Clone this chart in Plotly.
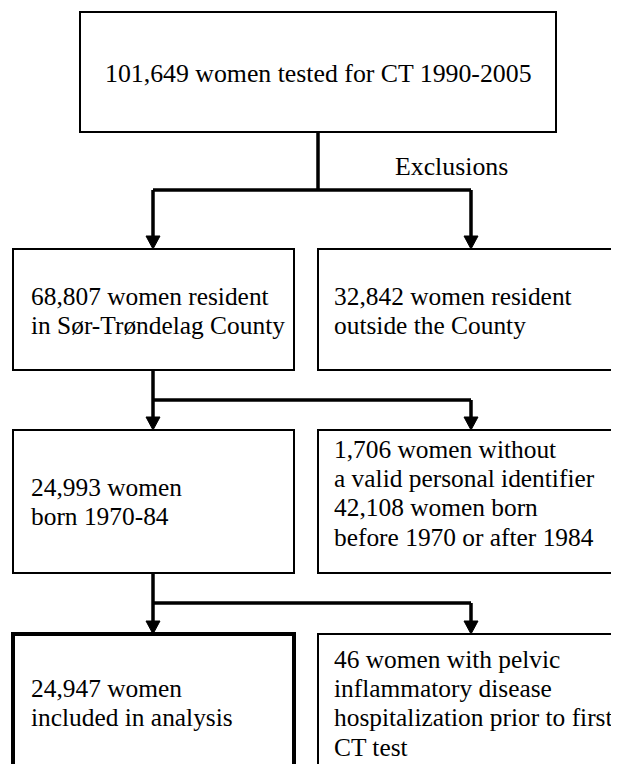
import plotly.graph_objects as go

# ---- content (text of the flowchart) ----
top_label = ["101,649 women tested for CT 1990-2005"]
exclusions_label = "Exclusions"
left_labels = [
    ["68,807 women resident", "in Sør-Trøndelag County"],
    ["24,993 women", "born 1970-84"],
    ["24,947 women", "included in analysis"],
]
right_labels = [
    ["32,842 women resident", "outside the County"],
    ["1,706 women without", "a valid personal identifier",
     "42,108 women born", "before 1970 or after 1984"],
    ["46 women with pelvic", "inflammatory disease",
     "hospitalization prior to first", "CT test"],
]

# ---- layout geometry (pixel-like axis units) ----
W, H = 619, 764
OFF = 8  # page body margin compensation
FONT = "'Times New Roman', 'Liberation Serif', 'DejaVu Serif', serif"
FS = 25.4
LINE = 29.2

top_box = (80, 12, 556, 132)
top_x = 318
split_y = [190, 400, 603]
row_top = [249, 430, 634]
row_bot = [370, 573, 800]
left_col = (13, 294)
right_col = (318, 660)
arrow_l, arrow_r = 153, 471
left_first_y = [296, 487, 688]
right_first_y = [296, 449, 659]
text_lx, text_rx = 29, 332

fig = go.Figure()
shapes = []
annotations = []
tfont = dict(family=FONT, size=FS, color="black")

def rect(x0, y0, x1, y1, w=2):
    shapes.append(dict(type="rect", xref="x", yref="y", x0=x0, y0=y0, x1=x1, y1=y1,
                       line=dict(color="black", width=w), fillcolor="white", layer="below"))

def seg(x0, y0, x1, y1, w=3.5):
    shapes.append(dict(type="line", xref="x", yref="y", x0=x0, y0=y0, x1=x1, y1=y1,
                       line=dict(color="black", width=w)))

def head(x, ytip, hw=7, hh=13):
    shapes.append(dict(type="path", xref="x", yref="y",
                       path=f"M {x-hw} {ytip-hh} L {x+hw} {ytip-hh} L {x} {ytip} Z",
                       fillcolor="black", line=dict(color="black", width=1)))

def label(x, y, t, anchor="left", size=FS):
    annotations.append(dict(x=x, y=y, text=t, xanchor=anchor, yanchor="middle",
                            showarrow=False, font=dict(family=FONT, size=size, color="black")))

# top box
rect(*top_box)
label((top_box[0] + top_box[2]) / 2, 73, top_label[0], "center", size=25.8)
label(393, 166, exclusions_label, size=25.8)

# connectors
seg(top_x, top_box[3], top_x, split_y[0])
for i in range(3):
    if i == 0:
        seg(arrow_l, split_y[0], arrow_r, split_y[0])
        seg(arrow_l, split_y[0], arrow_l, row_top[0] - 12)
    else:
        seg(arrow_l, row_bot[i - 1], arrow_l, row_top[i] - 12)
        seg(arrow_l, split_y[i], arrow_r, split_y[i])
    seg(arrow_r, split_y[i], arrow_r, row_top[i] - 12)
    head(arrow_l, row_top[i])
    head(arrow_r, row_top[i])

# boxes and texts
for i in range(3):
    rect(left_col[0], row_top[i], left_col[1], row_bot[i], w=4 if i == 2 else 2)
    rect(right_col[0], row_top[i], right_col[1], row_bot[i], w=2)
    for j, t in enumerate(left_labels[i]):
        label(text_lx, left_first_y[i] + j * LINE, t)
    for j, t in enumerate(right_labels[i]):
        label(text_rx, right_first_y[i] + j * LINE, t)

fig.update_layout(
    width=W, height=H,
    margin=dict(l=0, r=0, t=0, b=0),
    paper_bgcolor="white", plot_bgcolor="white",
    xaxis=dict(range=[OFF, W + OFF], visible=False, fixedrange=True),
    yaxis=dict(range=[H + OFF, OFF], visible=False, fixedrange=True),
    shapes=shapes,
    annotations=annotations,
    font=tfont,
    showlegend=False,
)
fig.write_html("out.html", config={"displayModeBar": False})
